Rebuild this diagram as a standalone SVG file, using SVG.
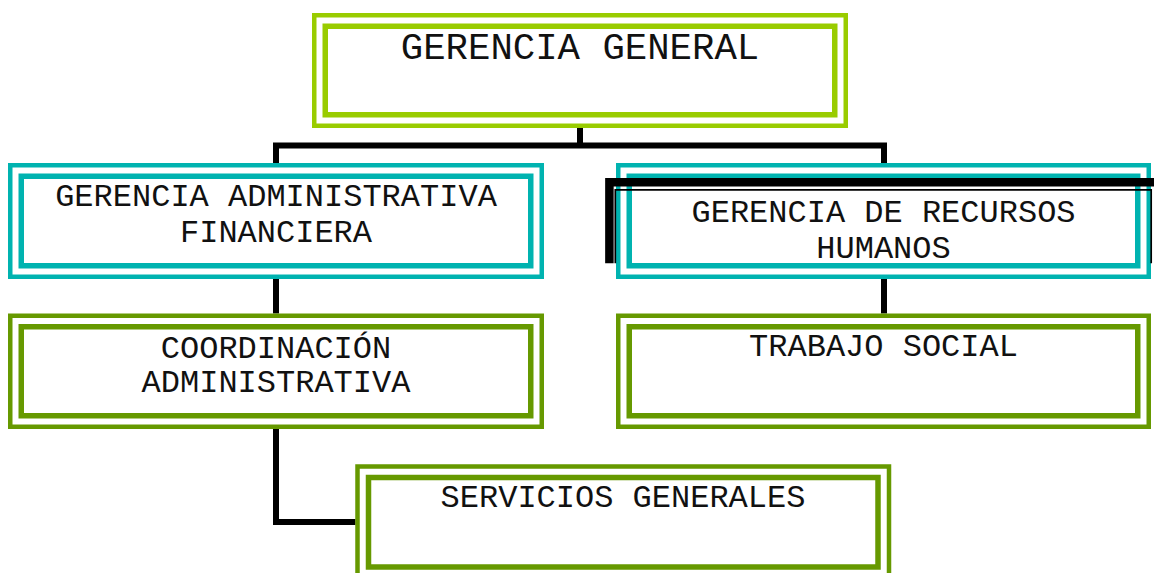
<svg xmlns="http://www.w3.org/2000/svg" width="1154" height="573" viewBox="0 0 1154 573">
<style>
.o{fill:none;stroke-width:4.5}
.i{fill:none;stroke-width:5.5}
.lime{stroke:#99CC00}
.cyan{stroke:#00B3B0}
.olive{stroke:#669900}
.t{font-family:"Courier New","Liberation Mono",monospace;fill:#111;text-anchor:middle;font-size:32px}
.big{font-size:37.33px}
.c{fill:none;stroke:#000;stroke-width:6;stroke-linejoin:miter}
</style>
<rect width="1154" height="573" fill="#fff"/>
<g id="connectors">
<path class="c" d="M580,128 V145.5"/>
<path class="c" d="M276,163 V145.5 H884 V163"/>
<path class="c" d="M276,279 V313.5"/>
<path class="c" d="M884,279 V313.5"/>
<path class="c" d="M276,429 V522 H355.5"/>
</g>
<g id="gerencia-general">
<rect class="o lime" x="314.25" y="15.25" width="531.5" height="110.5"/>
<rect class="i lime" x="325.25" y="26.25" width="509.5" height="88.5"/>
<text class="t big" x="580" y="58.5">GERENCIA GENERAL</text>
</g>
<g id="gerencia-administrativa-financiera">
<rect class="o cyan" x="10.25" y="165.25" width="531.5" height="111.5"/>
<rect class="i cyan" x="21.25" y="176.25" width="509.5" height="89.5"/>
<text class="t" x="276" y="206">GERENCIA ADMINISTRATIVA</text>
<text class="t" x="276" y="241.7">FINANCIERA</text>
</g>
<g id="gerencia-recursos-humanos">
<rect class="o cyan" x="618.25" y="165.25" width="530.5" height="111.5"/>
<rect class="i cyan" x="629.25" y="176.25" width="508.5" height="89.5"/>
<path d="M609.4,263.3 V182.3 H1160" fill="none" stroke="#000" stroke-width="8.5"/>
<path d="M615.3,263.3 V189.8 H1151.2 V263.3" fill="none" stroke="#000" stroke-width="1.7"/>
<text class="t" x="883.5" y="221.5">GERENCIA DE RECURSOS</text>
<text class="t" x="883.5" y="258">HUMANOS</text>
</g>
<g id="coordinacion-administrativa">
<rect class="o olive" x="10.25" y="315.75" width="531.5" height="111"/>
<rect class="i olive" x="21.25" y="326.75" width="509.5" height="89"/>
<text class="t" x="276" y="357.7">COORDINACIÓN</text>
<text class="t" x="276" y="391.7">ADMINISTRATIVA</text>
</g>
<g id="trabajo-social">
<rect class="o olive" x="618.25" y="315.75" width="530.5" height="111"/>
<rect class="i olive" x="629.25" y="326.75" width="508.5" height="89"/>
<text class="t" x="883.5" y="355.7">TRABAJO SOCIAL</text>
</g>
<g id="servicios-generales">
<rect class="o olive" x="357.5" y="466.5" width="531.5" height="111.5"/>
<rect class="i olive" x="368.5" y="477.5" width="509.5" height="89.5"/>
<text class="t" x="623" y="507">SERVICIOS GENERALES</text>
</g>
</svg>
